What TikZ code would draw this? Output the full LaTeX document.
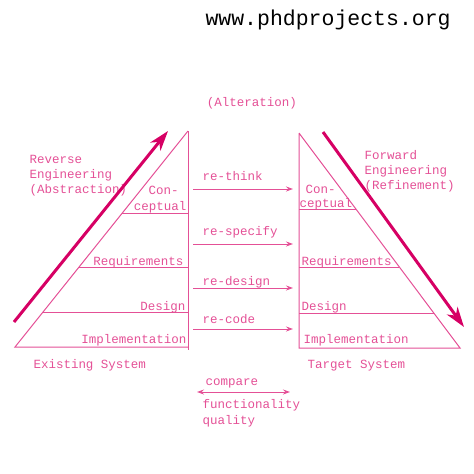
\documentclass[tikz,border=0pt]{standalone}
\usepackage{fontspec}
\setmainfont{Liberation Mono}
\usetikzlibrary{arrows.meta, positioning, calc}
\definecolor{pinkline}{RGB}{228,80,150}
\definecolor{pinkthick}{RGB}{214,0,100}

\begin{document}
\begin{tikzpicture}[x=1pt, y=-1pt, draw=pinkline, line width=1pt]
    \tikzstyle{txt}=[inner sep=0pt, text=pinkline, font=\fontsize{12.5}{15}\selectfont, text height=9pt, text depth=0pt]
    \tikzstyle{multitxt}=[inner sep=0pt, text=pinkline, font=\fontsize{12.5}{15}\selectfont, align=left]
    \tikzstyle{webtxt}=[inner sep=0pt, text=black, font=\fontsize{21.5}{24}\selectfont]
    \tikzstyle{thin arrow}=[-{Stealth[length=7pt,width=5pt]}]
    \tikzstyle{both arrow}=[{Stealth[length=7pt,width=5pt]}-{Stealth[length=7pt,width=5pt]}]
    \tikzstyle{big arrow}=[draw=pinkthick, line width=3pt, -{Stealth[length=20pt,width=13pt,inset=6pt]}]

    \useasboundingbox (0,0) rectangle (474,474);

    \node[webtxt, anchor=west] (web) at (205,20) {www.phdprojects.org};
    \node[txt] (alt) at (252,102) {(Alteration)};

%   existing system
    \coordinate (LA) at (188,131);
    \coordinate (LB) at (15,347);
    \coordinate (LC) at (188,350);
    \draw (LA) -- (LB) -- (LB -| LA);
    \draw (LA) -- (LC);
    \foreach \t/\n in {0.38/1, 0.63/2, 0.838/3}{
        \coordinate (LH-\n) at ($(LA)!\t!(LB)$);
        \draw (LH-\n) -- (LH-\n -| LA);
    }
    \node[txt, anchor=west] (lcon) at (148,190) {Con-};
    \node[txt, anchor=east] (lcep) at (187,206) {ceptual};
    \node[txt, anchor=east] (lreq) at (184,261) {Requirements};
    \node[txt, anchor=east] (ldes) at (186,306) {Design};
    \node[txt, anchor=east] (limp) at (187,339) {Implementation};
    \node[txt, anchor=west] (lsys) at (33,364) {Existing System};

%   target system
    \coordinate (RA) at (299,133);
    \coordinate (RB) at (460,348);
    \draw (RA) -- (RB) -- (RB -| RA) -- (RA);
    \foreach \t/\n in {0.354/1, 0.624/2, 0.84/3}{
        \coordinate (RH-\n) at ($(RA)!\t!(RB)$);
        \draw (RH-\n) -- (RH-\n -| RA);
    }
    \node[txt, anchor=west] (rcon) at (305,189) {Con-};
    \node[txt, anchor=west] (rcep) at (299,203) {ceptual};
    \node[txt, anchor=west] (rreq) at (301,261) {Requirements};
    \node[txt, anchor=west] (rdes) at (301,306) {Design};
    \node[txt, anchor=west] (rimp) at (303,339) {Implementation};
    \node[txt, anchor=west] (rsys) at (307,364) {Target System};

%   alteration arrows
    \foreach \lab/\ty/\ay [count=\i] in {re-think/176/189, re-specify/231/244, re-design/281/288, re-code/319/329}{
        \node[txt, anchor=west] (M-\i) at (202,\ty) {\lab};
        \coordinate (MS-\i) at (193,\ay);
        \coordinate (ME-\i) at (293,\ay);
        \draw[thin arrow] (MS-\i) -- (ME-\i);
    }

%   compare
    \node[txt, anchor=west] (cmp) at (205,381) {compare};
    \coordinate (CS) at (197,392);
    \coordinate (CE) at (290,392);
    \draw[both arrow] (CS) -- (CE);
    \node[txt, anchor=west] (fun) at (202,404) {functionality};
    \node[txt, anchor=west] (qua) at (202,420) {quality};

%   engineering directions
    \node[multitxt, anchor=west] (rev) at (29,176) {Reverse\\Engineering\\(Abstraction)};
    \node[multitxt, anchor=west] (fwd) at (364,171) {Forward\\Engineering\\(Refinement)};
    \coordinate (RevS) at (14,322);
    \coordinate (RevE) at (168,131);
    \draw[big arrow] (RevS) -- (RevE);
    \coordinate (FwdS) at (323,132);
    \coordinate (FwdE) at (464,327);
    \draw[big arrow] (FwdS) -- (FwdE);
\end{tikzpicture}
\end{document}
